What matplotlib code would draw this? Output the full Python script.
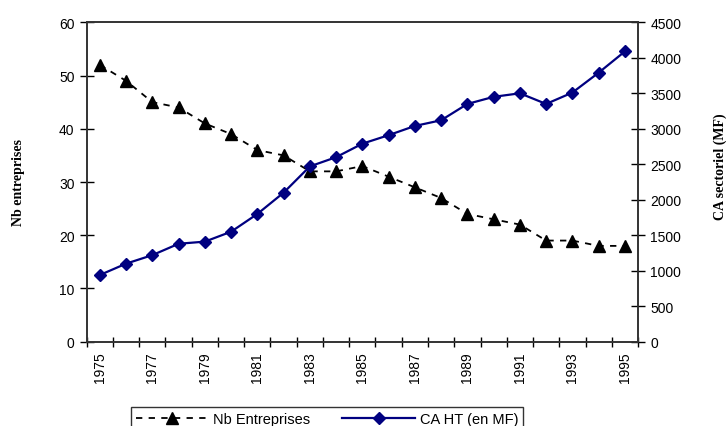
import matplotlib.pyplot as plt
import numpy as np

# Nombre d'entreprises et chiffre d'affaires du secteur, 1975-1995
annees = list(range(1975, 1996))
nb_entreprises = [52, 49, 45, 44, 41, 39, 36, 35, 32, 32, 33, 31, 29, 27, 24, 23, 22, 19, 19, 18, 18]
ca_ht = [940, 1100, 1220, 1380, 1410, 1550, 1800, 2100, 2470, 2600, 2790, 2910, 3040, 3120,
         3350, 3450, 3500, 3350, 3510, 3790, 4090]
etiquettes = [str(a) if a % 2 == 1 else '' for a in annees]

plt.rcParams['font.family'] = ['Liberation Sans', 'DejaVu Sans']
plt.rcParams['font.size'] = 10

fig = plt.figure(figsize=(7.27, 4.27), dpi=100)
ax = fig.add_axes([0.1193, 0.1974, 0.8776 - 0.1193, 0.9454 - 0.1974])
ax2 = ax.twinx()

x = np.arange(len(annees))
l1, = ax.plot(x, nb_entreprises, color='black', linestyle=(0, (3.5, 3.5)), linewidth=1.3,
              marker='^', markersize=9, markerfacecolor='black', markeredgecolor='black')
l2, = ax2.plot(x, ca_ht, color='#000080', linewidth=1.6,
               marker='D', markersize=6.5, markerfacecolor='#000080', markeredgecolor='#000080')

ax.set_xlim(-0.5, len(annees) - 0.5)
ax.set_ylim(0, 60)
ax2.set_ylim(0, 4500)
ax.set_yticks(range(0, 61, 10))
ax2.set_yticks(range(0, 4501, 500))

# graduations entre les catégories, étiquettes au centre
ax.set_xticks(x)
ax.set_xticklabels(etiquettes, rotation=90)
ax.set_xticks(np.arange(-0.5, len(annees), 1), minor=True)
ax.tick_params(axis='x', which='major', length=0, pad=7)
ax.tick_params(axis='x', which='minor', direction='inout', length=6.5, width=1)
ax.tick_params(axis='y', direction='inout', length=9.5, width=1, pad=4)
ax2.tick_params(axis='y', direction='inout', length=9.5, width=1, pad=4)

for a in (ax, ax2):
    for s in a.spines.values():
        s.set_linewidth(1.2)
        s.set_color('#333333')

fig.text(0.025, (427 - 182) / 427, 'Nb entreprises', rotation=90, ha='center', va='center',
         family='Liberation Serif', fontweight='bold', fontsize=10)
fig.text(720 / 727, (427 - 167) / 427, 'CA sectoriel (MF)', rotation=90, ha='center', va='center',
         family='Liberation Serif', fontweight='bold', fontsize=10)

leg = fig.legend([l1, l2], ['Nb Entreprises', 'CA HT (en MF)'], ncol=2,
                 loc='upper center', bbox_to_anchor=(327 / 727, (427 - 401) / 427),
                 bbox_transform=fig.transFigure, frameon=True, fancybox=False,
                 handlelength=5, columnspacing=2.2, handletextpad=0.3, borderpad=0.3,
                 fontsize=10.5)
leg.get_frame().set_edgecolor('black')
leg.get_frame().set_linewidth(1)

fig.savefig('out.png', dpi=100)
